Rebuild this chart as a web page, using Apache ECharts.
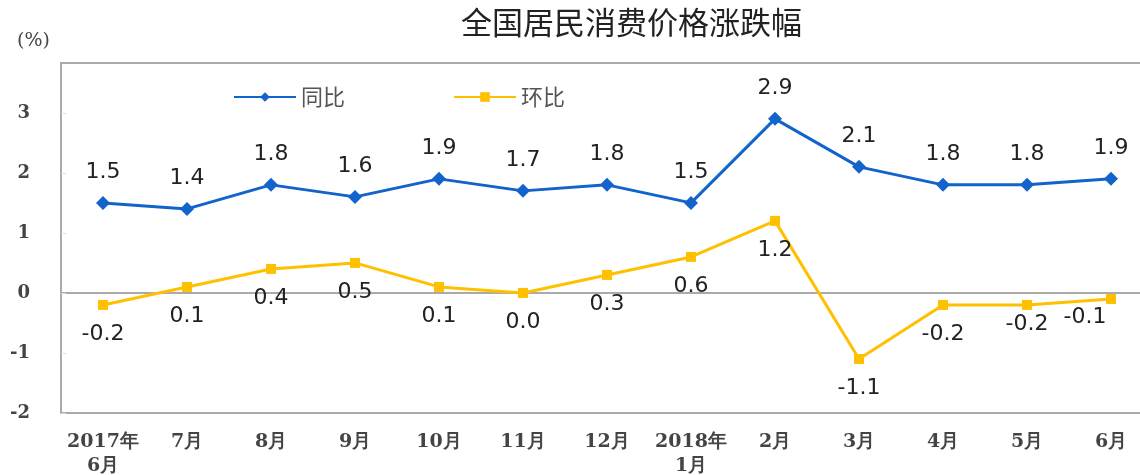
<!DOCTYPE html>
<html>
<head>
<meta charset="utf-8">
<script src="https://cdn.jsdelivr.net/npm/echarts@6/dist/echarts.min.js"></script>
<style>
  html, body { margin: 0; padding: 0; background: #fff; }
  #main { width: 1140px; height: 475px; }
</style>
</head>
<body>
<div id="main"></div>
<script>
// months on the x axis
var months = ['2017年\n6月', '7月', '8月', '9月', '10月', '11月', '12月', '2018年\n1月', '2月', '3月', '4月', '5月', '6月'];
// year-on-year
var yoy = [1.5, 1.4, 1.8, 1.6, 1.9, 1.7, 1.8, 1.5, 2.9, 2.1, 1.8, 1.8, 1.9];
// month-on-month
var mom = [-0.2, 0.1, 0.4, 0.5, 0.1, 0.0, 0.3, 0.6, 1.2, -1.1, -0.2, -0.2, -0.1];

var labelFont = 'DejaVu Sans, sans-serif';
var axisFont = 'DejaVu Serif, serif';

// the last two month-on-month labels are nudged so they don't collide
var momData = mom.map(function (v, i) {
  var item = { value: v };
  if (i === 11) item.label = { offset: [0, -10] };
  if (i === 12) item.label = { offset: [-26, -11] };
  return item;
});

var chart = echarts.init(document.getElementById('main'));
chart.setOption({
  animation: false,
  title: {
    text: '全国居民消费价格涨跌幅',
    left: 456,
    top: 2,
    textStyle: { fontSize: 31, fontWeight: 'normal', color: '#222', fontFamily: 'Noto Sans CJK SC' }
  },
  legend: {
    left: 228,
    top: 81,
    itemWidth: 62,
    itemHeight: 12,
    itemGap: 108,
    textStyle: { fontSize: 22, color: '#555', fontFamily: 'Noto Sans CJK SC' },
    data: ['同比', '环比']
  },
  grid: {
    left: 61, top: 63, width: 1092, height: 350,
    outerBoundsMode: 'none', containLabel: false,
    show: true, borderColor: '#aaa', borderWidth: 2
  },
  xAxis: [{
    type: 'category',
    data: months,
    position: 'bottom',
    axisLine: { onZero: false, show: false },
    axisTick: { show: false },
    axisLabel: {
      interval: 0, margin: 17, lineHeight: 24,
      fontSize: 19, fontWeight: 'bold', color: '#444', fontFamily: axisFont
    }
  }, {
    type: 'category',
    data: months,
    position: 'bottom',
    axisLine: { onZero: true, lineStyle: { color: '#aaa', width: 2 } },
    axisTick: { inside: true, length: 4, lineStyle: { color: '#bbb' } },
    axisLabel: { show: false }
  }],
  yAxis: {
    type: 'value',
    min: -2, max: 3.83, interval: 1,
    name: '(%)',
    nameLocation: 'end',
    nameGap: 12,
    nameTextStyle: { fontSize: 19, color: '#444', fontFamily: axisFont, align: 'right', padding: [0, 11, 0, 0] },
    axisLine: { show: true, lineStyle: { color: '#aaa', width: 2 } },
    axisTick: { show: true, inside: true, length: 5, lineStyle: { color: '#ddd' } },
    splitLine: { show: false },
    axisLabel: {
      showMaxLabel: false, margin: 31,
      fontSize: 18, fontWeight: 'bold', color: '#444', fontFamily: axisFont
    }
  },
  series: [{
    name: '同比',
    type: 'line',
    xAxisIndex: 0,
    data: yoy,
    symbol: 'diamond',
    symbolSize: 14,
    lineStyle: { color: '#1263cc', width: 3 },
    itemStyle: { color: '#1263cc' },
    label: {
      show: true, position: 'top', distance: 13,
      fontSize: 22, color: '#222', fontFamily: labelFont,
      formatter: function (p) { return p.value.toFixed(1); }
    }
  }, {
    name: '环比',
    type: 'line',
    xAxisIndex: 0,
    data: momData,
    symbol: 'rect',
    symbolSize: 10,
    lineStyle: { color: '#ffc000', width: 3 },
    itemStyle: { color: '#ffc000' },
    label: {
      show: true, position: 'bottom', distance: 13,
      fontSize: 22, color: '#222', fontFamily: labelFont,
      formatter: function (p) { return p.value.toFixed(1); }
    }
  }]
});
</script>
</body>
</html>
